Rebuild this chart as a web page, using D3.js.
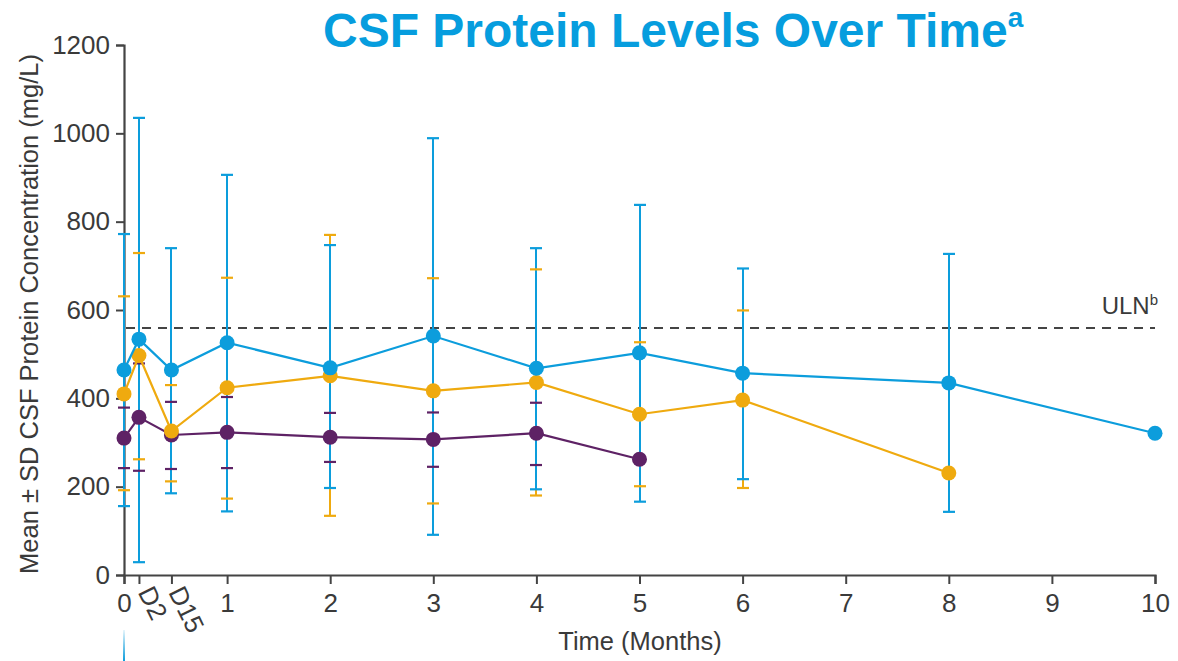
<!DOCTYPE html>
<html>
<head>
<meta charset="utf-8">
<script src="https://cdn.jsdelivr.net/npm/d3@7"></script>
<style>
  body { margin: 0; background: #fff; }
  text { font-family: "Liberation Sans", Arial, sans-serif; }
</style>
</head>
<body>
<div class="chart"></div>
<script>
// Width and height
var width = 1178;
var height = 661;

// x ticks (months, with day 2 and day 15 squeezed in)
var tickLabels = ["0", "D2", "D15", "1", "2", "3", "4", "5", "6", "7", "8", "9", "10"];
var tickValues = [0, 0.145, 0.46, 1, 2, 3, 4, 5, 6, 7, 8, 9, 10];
var yTicks = [0, 200, 400, 600, 800, 1000, 1200];

// blue series
var blueX = [0, 0.145, 0.46, 1, 2, 3, 4, 5, 6, 8, 10];
var blueMean = [464, 534, 464, 526, 469, 541, 468, 503, 457, 435, 321];
var blueLo = [156, 29, 185, 144, 197, 91, 194, 166, 217, 143, null];
var blueHi = [772, 1035, 740, 906, 747, 989, 740, 838, 694, 727, null];

// orange series
var orangeX = [0, 0.145, 0.46, 1, 2, 3, 4, 5, 6, 8];
var orangeMean = [410, 497, 326, 424, 451, 417, 436, 364, 396, 231];
var orangeLo = [192, 262, 212, 173, 134, 162, 180, 201, 197, null];
var orangeHi = [631, 729, 430, 673, 770, 672, 692, 527, 599, null];

// purple series
var purpleX = [0, 0.145, 0.46, 1, 2, 3, 4, 5];
var purpleMean = [310, 357, 317, 323, 312, 307, 321, 262];
var purpleLo = [242, 236, 240, 242, 256, 245, 249, null];
var purpleHi = [379, 479, 392, 403, 367, 368, 390, null];

var uln = 559;

var series = [
  { color: "#5e2265", x: purpleX, mean: purpleMean, lo: purpleLo, hi: purpleHi },
  { color: "#efaa0f", x: orangeX, mean: orangeMean, lo: orangeLo, hi: orangeHi },
  { color: "#0c9ddc", x: blueX, mean: blueMean, lo: blueLo, hi: blueHi }
];

var svg = d3.select(".chart")
  .append("svg")
  .attr("width", width)
  .attr("height", height);

var x = d3.scaleLinear().domain([0, 10]).range([124, 1155]);
var y = d3.scaleLinear().domain([0, 1200]).range([575, 45]);

// pixel-snapped x for the stems, so they don't blend at the edges
function sx(v) { return Math.round(x(v)); }

// Title
var title = svg.append("text")
  .attr("x", 323)
  .attr("y", 47)
  .style("font-size", "48px")
  .style("font-weight", "bold")
  .style("fill", "#069dde")
  .text("CSF Protein Levels Over Time");
title.append("tspan")
  .attr("dy", -20)
  .style("font-size", "28px")
  .text("a");

// Axes
var yAxis = svg.append("g")
  .attr("transform", "translate(124,0)")
  .call(d3.axisLeft(y).tickValues(yTicks).tickSize(8).tickPadding(6).tickFormat(d3.format("d")));

var xAxis = svg.append("g")
  .attr("transform", "translate(0,575)")
  .call(d3.axisBottom(x).tickValues(tickValues).tickSize(9).tickPadding(10)
    .tickFormat(function(d, i) { return tickLabels[i]; }));

[yAxis, xAxis].forEach(function(a) {
  a.select(".domain").attr("stroke", "#444").attr("stroke-width", 2.2);
  a.selectAll(".tick line").attr("stroke", "#444").attr("stroke-width", 2);
  a.selectAll(".tick text").style("font-size", "26px").attr("fill", "#3a3a3a")
    .style("font-family", "'Liberation Sans', Arial, sans-serif");
});

// D2 and D15 labels are turned
xAxis.selectAll(".tick text")
  .filter(function(d, i) { return i == 1 || i == 2; })
  .attr("text-anchor", "start")
  .attr("dy", null)
  .attr("y", 0)
  .attr("transform", function(d, i) { return "translate(" + (i == 0 ? -2 : -4) + ",17) rotate(64)"; });

// Axis titles
svg.append("text")
  .attr("transform", "translate(38,314) rotate(-90)")
  .attr("text-anchor", "middle")
  .style("font-size", "25.5px")
  .style("fill", "#3a3a3a")
  .text("Mean \u00b1 SD CSF Protein Concentration (mg/L)");

svg.append("text")
  .attr("x", 640)
  .attr("y", 650)
  .attr("text-anchor", "middle")
  .style("font-size", "25.5px")
  .style("fill", "#3a3a3a")
  .text("Time (Months)");

// ULN line
svg.append("line")
  .attr("x1", x(0) + 2).attr("x2", x(10))
  .attr("y1", y(uln)).attr("y2", y(uln))
  .attr("stroke", "#444")
  .attr("stroke-width", 2)
  .attr("stroke-dasharray", "9,7");

var uText = svg.append("text")
  .attr("x", 1158)
  .attr("y", 314)
  .attr("text-anchor", "end")
  .style("font-size", "24px")
  .style("fill", "#3a3a3a")
  .text("ULN");
uText.append("tspan").attr("dy", -9).style("font-size", "15px").text("b");

// Error bars: stems first, then caps
series.forEach(function(s) {
  s.x.forEach(function(xv, i) {
    if (s.lo[i] == null) return;
    svg.append("line")
      .attr("x1", sx(xv)).attr("x2", sx(xv))
      .attr("y1", y(s.lo[i])).attr("y2", y(s.hi[i]))
      .attr("stroke", s.color).attr("stroke-width", 2);
  });
});
series.forEach(function(s) {
  s.x.forEach(function(xv, i) {
    if (s.lo[i] == null) return;
    [s.lo[i], s.hi[i]].forEach(function(v) {
      svg.append("line")
        .attr("x1", sx(xv) - 6).attr("x2", sx(xv) + 6)
        .attr("y1", y(v)).attr("y2", y(v))
        .attr("stroke", s.color).attr("stroke-width", 2.2);
    });
  });
});

// Lines and points
var line = d3.line()
  .x(function(d) { return x(d[0]); })
  .y(function(d) { return y(d[1]); });

series.forEach(function(s) {
  var pts = s.x.map(function(xv, i) { return [xv, s.mean[i]]; });
  svg.append("path")
    .attr("d", line(pts))
    .attr("fill", "none")
    .attr("stroke", s.color)
    .attr("stroke-width", 2.2);
  svg.selectAll(null)
    .data(pts)
    .enter()
    .append("circle")
    .attr("cx", function(d) { return x(d[0]); })
    .attr("cy", function(d) { return y(d[1]); })
    .attr("r", 7.5)
    .attr("fill", s.color);
});

// small blue sliver at the bottom edge
var grad = svg.append("defs").append("linearGradient")
  .attr("id", "sliver").attr("x1", 0).attr("x2", 0).attr("y1", 0).attr("y2", 1);
grad.append("stop").attr("offset", "0%").attr("stop-color", "#0c9ddc").attr("stop-opacity", 0.1);
grad.append("stop").attr("offset", "100%").attr("stop-color", "#0c9ddc").attr("stop-opacity", 1);
svg.append("rect")
  .attr("x", x(0) - 1).attr("y", 630)
  .attr("width", 2).attr("height", 31)
  .attr("fill", "url(#sliver)");
</script>
</body>
</html>
